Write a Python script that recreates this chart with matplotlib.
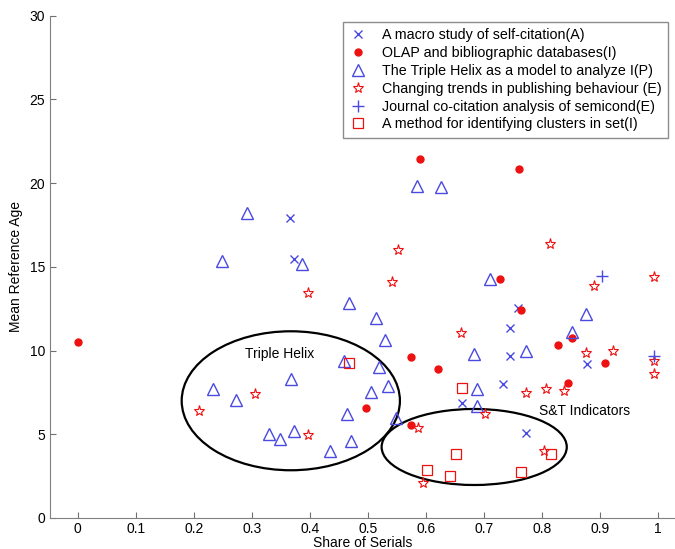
import matplotlib.pyplot as plt
from matplotlib.patches import Ellipse

plt.rcParams['font.family'] = ['Liberation Sans', 'DejaVu Sans']

BLUE = '#4a4ae2'
RED = '#ee1111'

# A macro study of self-citation(A)
a_x = [0.366, 0.373, 0.759, 0.745, 0.745, 0.878, 0.733, 0.662, 0.773]
a_y = [17.9, 15.46, 12.56, 11.34, 9.65, 9.18, 7.98, 6.88, 5.07]

# OLAP and bibliographic databases(I)
olap_x = [0.0, 0.589, 0.760, 0.727, 0.763, 0.852, 0.828, 0.574, 0.621, 0.908, 0.845, 0.497, 0.574]
olap_y = [10.5, 21.41, 20.84, 14.25, 12.40, 10.75, 10.34, 9.64, 8.88, 9.24, 8.07, 6.57, 5.57]

# The Triple Helix as a model to analyze I(P)
th_x = [0.291, 0.248, 0.387, 0.468, 0.585, 0.626, 0.710, 0.513, 0.876, 0.852,
        0.530, 0.683, 0.772, 0.459, 0.519, 0.368, 0.535, 0.233, 0.506, 0.272,
        0.688, 0.688, 0.463, 0.549, 0.330, 0.349, 0.372, 0.470, 0.434]
th_y = [18.2, 15.36, 15.15, 12.85, 19.84, 19.76, 14.27, 11.96, 12.18, 11.08,
        10.6, 9.79, 9.98, 9.40, 9.0, 8.29, 7.89, 7.69, 7.5, 7.02,
        7.69, 6.7, 6.21, 6.0, 5.01, 4.71, 5.2, 4.59, 4.02]

# Changing trends in publishing behaviour (E)
ct_x = [0.396, 0.551, 0.813, 0.541, 0.889, 0.993, 0.661, 0.875, 0.923, 0.993, 0.993,
        0.772, 0.807, 0.838, 0.305, 0.208, 0.396, 0.701, 0.587, 0.803, 0.595]
ct_y = [13.45, 15.98, 16.38, 14.09, 13.88, 14.39, 11.06, 9.87, 9.96, 9.36, 8.58,
        7.46, 7.69, 7.58, 7.39, 6.39, 4.98, 6.19, 5.39, 4.0, 2.07]

# Journal co-citation analysis of semicond(E)
jc_x = [0.903, 0.993]
jc_y = [14.43, 9.66]

# A method for identifying clusters in set(I)
cl_x = [0.468, 0.662, 0.651, 0.815, 0.601, 0.641, 0.764]
cl_y = [9.26, 7.77, 3.84, 3.84, 2.88, 2.49, 2.75]

xticks = [0, 0.1, 0.2, 0.3, 0.4, 0.5, 0.6, 0.7, 0.8, 0.9, 1]
xtick_labels = ['0', '0.1', '0.2', '0.3', '0.4', '0.5', '0.6', '0.7', '0.8', '0.9', '1']
yticks = [0, 5, 10, 15, 20, 25, 30]

fig = plt.figure(figsize=(6.75, 5.49), dpi=100)
ax = fig.add_axes([0.074, 0.0565, 0.926, 0.915])

ax.plot(a_x, a_y, 'x', color=BLUE, ms=6, mew=1, label='A macro study of self-citation(A)')
ax.plot(olap_x, olap_y, 'o', color=RED, ms=5, label='OLAP and bibliographic databases(I)')
ax.plot(th_x, th_y, '^', color=BLUE, mfc='none', ms=8, mew=1,
        label='The Triple Helix as a model to analyze I(P)')
ax.plot(ct_x, ct_y, '*', color=RED, mfc='none', ms=8, mew=0.8,
        label='Changing trends in publishing behaviour (E)')
ax.plot(jc_x, jc_y, '+', color=BLUE, ms=8, mew=1,
        label='Journal co-citation analysis of semicond(E)')
ax.plot(cl_x, cl_y, 's', color=RED, mfc='none', ms=7, mew=0.9,
        label='A method for identifying clusters in set(I)')

# hand-drawn cluster ellipses
ax.add_patch(Ellipse((0.367, 7.0), 0.376, 8.3, fill=False, ec='black', lw=1.6))
ax.add_patch(Ellipse((0.683, 4.24), 0.319, 4.54, fill=False, ec='black', lw=1.6))
ax.text(0.348, 9.8, 'Triple Helix', fontsize=10, ha='center', va='center')
ax.text(0.874, 6.41, 'S&T Indicators', fontsize=10, ha='center', va='center')

ax.set_xlim(-0.048, 1.029)
ax.set_ylim(0, 30)
ax.set_xticks(xticks)
ax.set_xticklabels(xtick_labels)
ax.set_yticks(yticks)
ax.tick_params(direction='in', length=4, colors='#707070', labelcolor='black', labelsize=10)
ax.tick_params(axis='x', pad=3)
for s in ['top', 'right']:
    ax.spines[s].set_visible(False)
for s in ['left', 'bottom']:
    ax.spines[s].set_color('#808080')
ax.set_xlabel('Share of Serials', fontsize=10, labelpad=0)
ax.set_ylabel('Mean Reference Age', fontsize=10, labelpad=5)

leg = ax.legend(loc='upper right', bbox_to_anchor=(0.989, 0.988), borderaxespad=0,
                fontsize=10.3, frameon=True, fancybox=False, handlelength=1.2,
                handletextpad=1.1, labelspacing=0.27, borderpad=0.45, numpoints=1)
leg.get_frame().set_edgecolor('#707070')
leg.get_frame().set_linewidth(1)

fig.savefig('out.png', dpi=100)
